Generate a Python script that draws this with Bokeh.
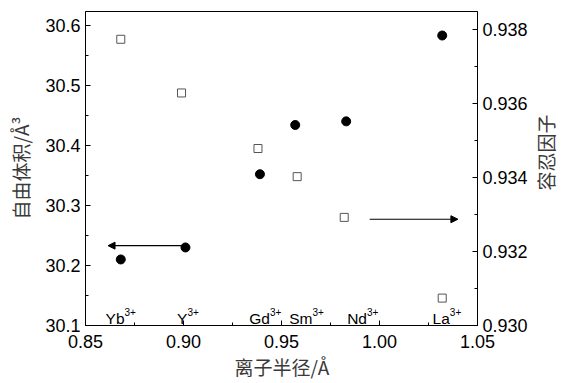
import math
from bokeh.plotting import figure
from bokeh.layouts import row
from bokeh.models import (Range1d, LinearAxis, FixedTicker, PrintfTickFormatter,
                          Arrow, NormalHead, ColumnDataSource)
from bokeh.core.properties import value
from bokeh.embed import file_html
from bokeh.resources import INLINE

# ---- data ----
ions = ["Yb", "Y", "Gd", "Sm", "Nd", "La"]
radius_fv = [0.868, 0.901, 0.939, 0.957, 0.983, 1.032]
free_volume = [30.210, 30.230, 30.352, 30.434, 30.440, 30.583]
radius_tf = [0.868, 0.899, 0.938, 0.958, 0.982, 1.032]
tolerance = [0.93773, 0.93628, 0.93478, 0.93402, 0.93292, 0.93074]
label_end = [0.8699, 0.9020, 0.9441, 0.9658, 0.9936, 1.0359]
sup_text = ["3+"] * 6
x_ticks = [0.85, 0.90, 0.95, 1.00, 1.05]
y_ticks = [30.1, 30.2, 30.3, 30.4, 30.5, 30.6]
tf_ticks = [0.930, 0.932, 0.934, 0.936, 0.938]
right_title = "容忍因子"

FONT = "Liberation Sans"
CJK = "Noto Sans CJK SC"

p = figure(width=530, height=383, output_backend="svg", toolbar_location=None,
           x_range=Range1d(0.85, 1.05), y_range=Range1d(30.1, 30.623),
           min_border_left=85, min_border_right=53, min_border_top=11,
           min_border_bottom=58)
p.extra_y_ranges = {"tf": Range1d(0.930, 0.93848)}
p.xgrid.visible = False
p.ygrid.visible = False
p.outline_line_color = "black"
p.outline_line_width = 1
p.background_fill_color = "white"
p.border_fill_color = "white"

def style_axis(ax, ticks, minor, fmt):
    ax.ticker = FixedTicker(ticks=ticks, minor_ticks=minor)
    ax.formatter = PrintfTickFormatter(format=fmt)
    ax.major_tick_in = 5
    ax.major_tick_out = 0
    ax.minor_tick_in = 3
    ax.minor_tick_out = 0
    ax.axis_line_color = "black"
    ax.major_tick_line_color = "black"
    ax.minor_tick_line_color = "black"
    ax.major_label_text_font = FONT
    ax.major_label_text_font_size = "18px"
    ax.major_label_text_color = "black"
    ax.axis_label_text_font = CJK
    ax.axis_label_text_font_size = "19px"
    ax.axis_label_text_font_style = "normal"
    ax.axis_label_text_color = "#3a3a3a"

xa = p.xaxis[0]
style_axis(xa, x_ticks, [0.875, 0.925, 0.975, 1.025], "%.2f")
xa.axis_label = "离子半径/Å"
xa.major_label_standoff = 9
xa.axis_label_standoff = 2

ya = p.yaxis[0]
style_axis(ya, y_ticks, [30.15, 30.25, 30.35, 30.45, 30.55], "%.1f")
ya.axis_label = "自由体积/Å³"
ya.major_label_standoff = 5
ya.axis_label_standoff = 8

ra = LinearAxis(y_range_name="tf")
style_axis(ra, tf_ticks, [0.931, 0.933, 0.935, 0.937], "%.3f")
ra.major_label_standoff = 5
p.add_layout(ra, "right")

fv = ColumnDataSource(dict(x=radius_fv, y=free_volume))
tf = ColumnDataSource(dict(x=radius_tf, y=tolerance))
p.scatter("x", "y", source=fv, marker="circle", size=9, fill_color="black",
          line_color="black")
p.scatter("x", "y", source=tf, marker="square", size=8, fill_color="white",
          line_color="#555555", line_width=1, y_range_name="tf")

# ion labels along bottom
lab = ColumnDataSource(dict(x=label_end, y=[30.111] * 6, t=ions,
                            ys=[30.122] * 6, s=sup_text))
p.text("x", "y", text="t", source=lab, text_align="right",
       text_baseline="alphabetic", text_font=value(FONT),
       text_font_size="15.5px", text_color="black")
p.text("x", "ys", text="s", source=lab, text_align="left",
       text_baseline="alphabetic", text_font=value(FONT),
       text_font_size="10px", text_color="black")

# arrows
p.add_layout(Arrow(end=NormalHead(size=7, fill_color="black", line_color="black"),
                   x_start=radius_fv[1], y_start=30.233, x_end=0.8615, y_end=30.233,
                   line_color="black", line_width=1.2))
p.add_layout(Arrow(end=NormalHead(size=7, fill_color="black", line_color="black"),
                   x_start=0.995, y_start=30.277, x_end=1.040, y_end=30.277,
                   line_color="black", line_width=1.2))

# narrow strip on the right carrying the right-axis title (reads bottom-to-top)
q = figure(width=34, height=383, output_backend="svg", toolbar_location=None,
           x_range=Range1d(0, 1), y_range=Range1d(0, 1),
           min_border_left=0, min_border_right=0, min_border_top=0,
           min_border_bottom=0)
q.axis.visible = False
q.xgrid.visible = False
q.ygrid.visible = False
q.outline_line_color = None
q.background_fill_color = "white"
q.border_fill_color = "white"
q.text(x=[0.45], y=[0.551], text=[right_title], angle=math.pi / 2,
       text_align="center", text_baseline="middle", text_font=value(CJK),
       text_font_size="19px", text_color="#3a3a3a")

layout = row(p, q, spacing=0)
open("out.html", "w").write(file_html(layout, INLINE))
